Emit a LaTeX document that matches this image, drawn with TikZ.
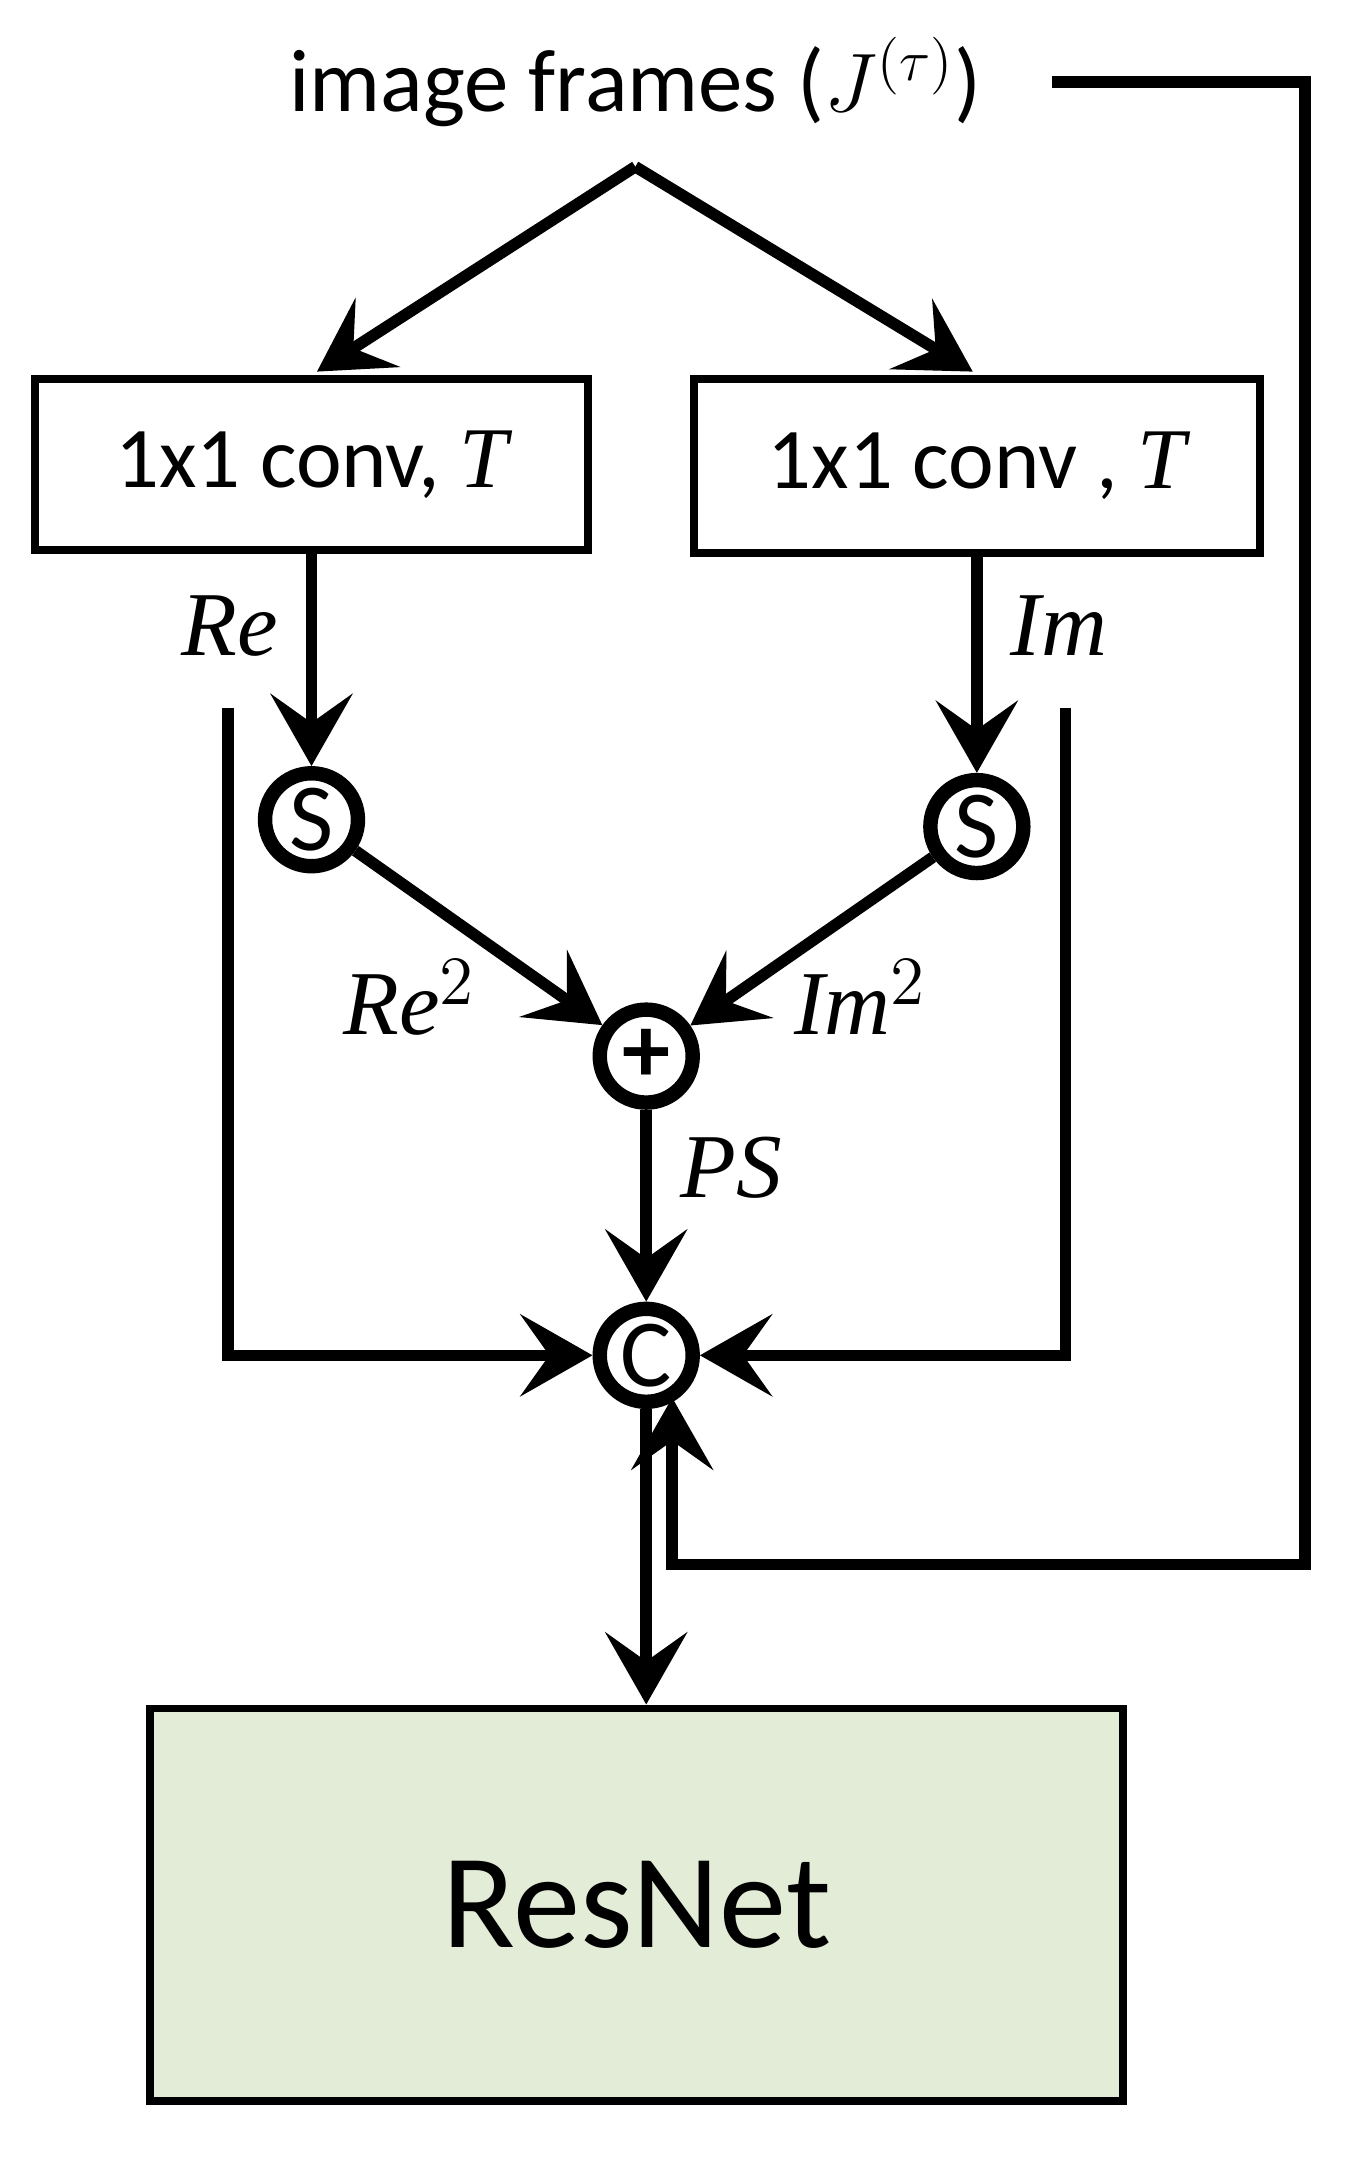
\documentclass[tikz,border=0pt]{standalone}
\usepackage{fontspec}
\setmainfont{Carlito}
\newfontfamily\serifit{Liberation Serif}
\usetikzlibrary{arrows.meta}
\definecolor{resgreen}{RGB}{226,236,214}
\begin{document}
\begin{tikzpicture}[x=0.01cm,y=-0.01cm,
  ln/.style={line width=2.4pt},
  arr/.style={ln,-{Stealth[length=15pt,width=17pt,inset=6pt]}},
  box/.style={draw,line width=1.6pt,minimum width=#1,font=\fontsize{18}{20}\selectfont,inner sep=0pt},
  op/.style={circle,draw,line width=3pt,minimum size=0.68cm,inner sep=0pt,font=\fontsize{20}{21}\selectfont},
  lab/.style={font=\serifit\itshape\fontsize{19}{21}\selectfont}]
\useasboundingbox (0,0) rectangle (1000,1581);
\node (in) at (465,60) {\fontsize{18.5}{21}\selectfont image frames ($J^{(\tau)}$)};
\coordinate (apex) at (465,122);
\node[box=4.05cm,minimum height=1.25cm] (b1) at (228,340) {1x1 conv, {\serifit\itshape T}};
\node[box=4.14cm,minimum height=1.27cm] (b2) at (715,341) {1x1 conv , {\serifit\itshape T}};
\node[op] (s1) at (228,600) {S};
\node[op] (s2) at (715,605) {S};
\node[op] (p) at (473,773) {\textbf{+}};
\node[op] (c) at (473,992) {C};
\node[draw,line width=1.6pt,fill=resgreen,minimum width=7.12cm,minimum height=2.87cm,font=\fontsize{28}{30}\selectfont] (res) at (466,1394) {ResNet};
\coordinate (t1) at (232,272);
\coordinate (t2) at (712,272);
\draw[arr] (apex) -- (t1);
\draw[arr] (apex) -- (t2);
\draw[arr] (b1.south -| s1) -- (s1);
\draw[arr] (b2.south -| s2) -- (s2);
\draw[arr] (s1) -- (p);
\draw[arr] (s2) -- (p);
\draw[arr] (p) -- (c);
\draw[arr] (c) -- (res.north -| c);
\coordinate (l0) at (167,518);
\coordinate (r0) at (780,518);
\draw[arr] (l0) |- (c);
\draw[arr] (r0) |- (c);
\coordinate (f0) at (770,60);
\coordinate (f1) at (955,60);
\coordinate (f2) at (955,1145);
\coordinate (f3) at (492,1145);
\coordinate (f4) at (492,1023);
\draw[arr] (f0) -- (f1) -- (f2) -- (f3) -- (f4);
\node[lab] at (168,458) {Re};
\node[lab] at (775,458) {Im};
\node[lab] at (300,730) {Re$^{2}$};
\node[lab] at (630,730) {Im$^{2}$};
\node[lab] at (535,855) {PS};
\end{tikzpicture}
\end{document}
